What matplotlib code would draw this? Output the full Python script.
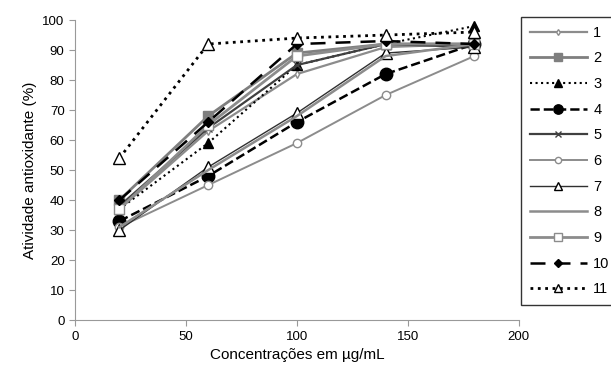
import matplotlib
matplotlib.use('Agg')
import matplotlib.pyplot as plt

plt.rcParams['font.family'] = ['Liberation Sans', 'DejaVu Sans']

# concentrações (µg/mL)
conc = [20, 60, 100, 140, 180]

# atividade antioxidante (%) de cada amostra
s1 = [37, 63, 82, 91, 92]
s2 = [40, 68, 89, 92, 92]
s3 = [37, 59, 85, 92, 98]
s4 = [33, 48, 66, 82, 92]
s5 = [38, 64, 85, 92, 91]
s6 = [31, 45, 59, 75, 88]
s7 = [30, 51, 69, 89, 91]
s8 = [31, 50, 68, 88, 92]
s9 = [37, 65, 88, 92, 92]
s10 = [40, 66, 92, 93, 92]
s11 = [54, 92, 94, 95, 96]
nomes = ['1', '2', '3', '4', '5', '6', '7', '8', '9', '10', '11']

series = [s1, s2, s3, s4, s5, s6, s7, s8, s9, s10, s11]
estilos = [
    dict(color='#8c8c8c', ls='-', lw=1.6, marker='d', ms=4, mfc='white', mec='#8c8c8c'),
    dict(color='#7f7f7f', ls='-', lw=2.0, marker='s', ms=7, mfc='#7f7f7f', mec='#7f7f7f'),
    dict(color='black', ls=':', lw=1.5, marker='^', ms=7, mfc='black', mec='black'),
    dict(color='black', ls='--', lw=1.8, marker='o', ms=9, mfc='black', mec='black'),
    dict(color='#404040', ls='-', lw=1.6, marker='x', ms=6, mfc='#404040', mec='#404040'),
    dict(color='#8c8c8c', ls='-', lw=1.4, marker='o', ms=6, mfc='white', mec='#8c8c8c'),
    dict(color='#303030', ls='-', lw=1.0, marker='^', ms=8, mfc='white', mec='black'),
    dict(color='#8c8c8c', ls='-', lw=1.8),
    dict(color='#8c8c8c', ls='-', lw=2.0, marker='s', ms=7, mfc='white', mec='#8c8c8c'),
    dict(color='black', ls=(0, (6, 4)), lw=1.8, marker='D', ms=5, mfc='black', mec='black'),
    dict(color='black', ls=':', lw=2.0, marker='^', ms=8, mfc='white', mec='black'),
]

fig = plt.figure(figsize=(6.11, 3.78), dpi=100)
ax = fig.add_axes([0.1228, 0.153, 0.7262, 0.794])

for s, nome, st in zip(series, nomes, estilos):
    ax.plot(conc, s, label=nome, **st)

ax.set_xlim(0, 200)
ax.set_ylim(0, 100)
ax.set_xticks([0, 50, 100, 150, 200])
ax.set_yticks(range(0, 101, 10))
ax.tick_params(labelsize=9.5, color='#999999', length=4)
for lado in ['top', 'right']:
    ax.spines[lado].set_visible(False)
for lado in ['left', 'bottom']:
    ax.spines[lado].set_color('#999999')
ax.set_xlabel('Concentrações em µg/mL', fontsize=11)
ax.set_ylabel('Atividade antioxidante (%)', fontsize=11)

leg = fig.legend(loc='upper left', bbox_to_anchor=(0.853, 0.955), fontsize=10.5,
                 frameon=True, fancybox=False, edgecolor='black', handlelength=3.9,
                 labelspacing=0.8, borderpad=0.6, handletextpad=0.45,
                 borderaxespad=0, markerscale=0.75)
leg.get_frame().set_linewidth(1.0)

fig.savefig('out.png', dpi=100)
